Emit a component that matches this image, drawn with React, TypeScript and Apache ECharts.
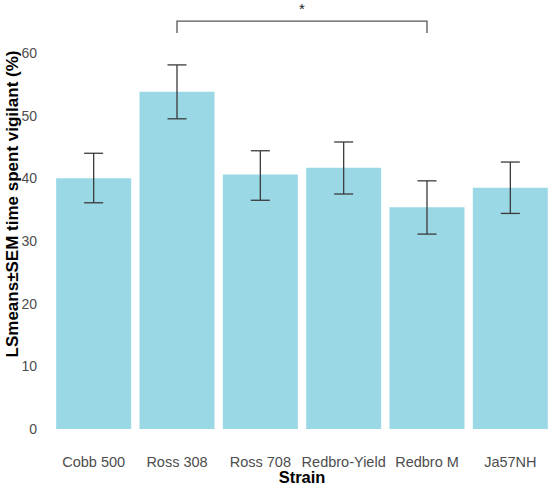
import React, { useEffect, useRef } from "react";
import * as echarts from "echarts";

const categories = ["Cobb 500", "Ross 308", "Ross 708", "Redbro-Yield", "Redbro M", "Ja57NH"];
const means = [40.0, 53.8, 40.6, 41.7, 35.4, 38.5];
const semLow = [36.1, 49.5, 36.5, 37.5, 31.1, 34.4];
const semHigh = [44.0, 58.1, 44.4, 45.8, 39.6, 42.6];
const yTicks = [0, 10, 20, 30, 40, 50, 60];
const bracketFrom = 1;
const bracketTo = 4;
const bracketTop = 65.1;
const bracketEnd = 63.2;
const bracketLabel = "*";
const xTitle = "Strain";
const yTitle = "LSmeans±SEM time spent vigilant (%)";

const FONT = "'Liberation Sans', Arial, sans-serif";

export default function App() {
  const ref = useRef<HTMLDivElement>(null);
  useEffect(() => {
    if (!ref.current) return;
    const chart = echarts.init(ref.current, null, { renderer: "svg" });
    const errData = categories.map((_, i) => [i, semLow[i], semHigh[i]]);
    chart.setOption({
      animation: false,
      textStyle: { fontFamily: FONT },
      grid: { left: 52, right: -2, top: 53, bottom: 59, containLabel: false, outerBoundsMode: "none" },
      xAxis: {
        type: "category",
        data: categories,
        axisLine: { show: false },
        axisTick: { show: false },
        axisLabel: { color: "#4d4d4d", fontSize: 14.5, margin: 25, fontFamily: FONT, interval: 0 },
      },
      yAxis: {
        type: "value",
        min: yTicks[0],
        max: yTicks[yTicks.length - 1],
        interval: 10,
        axisLine: { show: false },
        axisTick: { show: false },
        splitLine: { show: false },
        axisLabel: { color: "#4d4d4d", fontSize: 14, margin: 15, fontFamily: FONT },
      },
      graphic: [
        {
          type: "text",
          x: 12,
          y: 204,
          rotation: Math.PI / 2,
          style: {
            text: yTitle,
            fill: "#000",
            font: "bold 17px " + FONT,
            textAlign: "center",
            textVerticalAlign: "middle",
          },
        },
        {
          type: "text",
          x: 302,
          y: 477,
          style: {
            text: xTitle,
            fill: "#000",
            font: "bold 16.5px " + FONT,
            textAlign: "center",
            textVerticalAlign: "middle",
          },
        },
      ],
      series: [
        {
          type: "bar",
          data: means,
          barCategoryGap: "10%",
          itemStyle: { color: "#9AD8E6" },
        },
        {
          type: "custom",
          data: errData,
          encode: { x: 0, y: [1, 2] },
          clip: false,
          z: 10,
          renderItem: (params: any, api: any) => {
            const i = api.value(0);
            const lo = api.coord([i, api.value(1)]);
            const hi = api.coord([i, api.value(2)]);
            const hw = 9.5;
            const style = { stroke: "#3a3a3a", lineWidth: 1.3 };
            return {
              type: "group",
              children: [
                { type: "line", shape: { x1: hi[0], y1: hi[1], x2: lo[0], y2: lo[1] }, style },
                { type: "line", shape: { x1: hi[0] - hw, y1: hi[1], x2: hi[0] + hw, y2: hi[1] }, style },
                { type: "line", shape: { x1: lo[0] - hw, y1: lo[1], x2: lo[0] + hw, y2: lo[1] }, style },
              ],
            };
          },
        },
        {
          type: "custom",
          data: [[bracketFrom, bracketTo, bracketTop, bracketEnd]],
          clip: false,
          z: 10,
          renderItem: (params: any, api: any) => {
            const a = api.coord([api.value(0), api.value(2)]);
            const b = api.coord([api.value(1), api.value(2)]);
            const aEnd = api.coord([api.value(0), api.value(3)]);
            const style = { stroke: "#555", lineWidth: 1.3, fill: "none" };
            return {
              type: "group",
              children: [
                {
                  type: "polyline",
                  shape: { points: [[a[0], aEnd[1]], [a[0], a[1]], [b[0], b[1]], [b[0], aEnd[1]]] },
                  style,
                },
                {
                  type: "text",
                  x: (a[0] + b[0]) / 2,
                  y: a[1] - 13,
                  style: {
                    text: bracketLabel,
                    fill: "#222",
                    font: "15px " + FONT,
                    textAlign: "center",
                    textVerticalAlign: "middle",
                  },
                },
              ],
            };
          },
        },
      ],
    });
    return () => chart.dispose();
  }, []);
  return <div ref={ref} style={{ position: "absolute", left: 0, top: 0, width: 550, height: 488 }} />;
}
